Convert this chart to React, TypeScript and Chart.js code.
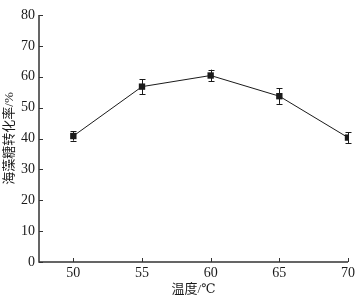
import { useEffect, useRef } from 'react';
import { Chart, registerables } from 'chart.js';

Chart.register(...registerables);

const temperatures = [50, 55, 60, 65, 70];
const conversion = [40.8, 56.8, 60.4, 53.7, 40.3];
const errorValues = [1.5, 2.4, 1.9, 2.5, 1.8];
const xTickValues = [50, 55, 60, 65, 70];
const yTickValues = [0, 10, 20, 30, 40, 50, 60, 70, 80];
const xTitle = '温度/℃';
const yTitle = '海藻糖转化率/%';

const FONT = "'Liberation Serif', 'DejaVu Serif', 'Noto Sans CJK SC', serif";
const INK = '#1a1a1a';
const AXIS = '#333333';

const decorPlugin = {
  id: 'decor',
  beforeDatasetsDraw(chart: any) {
    const { ctx } = chart;
    const xs = chart.scales.x;
    const ys = chart.scales.y;
    ctx.save();
    ctx.strokeStyle = INK;
    ctx.lineWidth = 1;
    temperatures.forEach((t, i) => {
      const x = Math.round(xs.getPixelForValue(t)) + 0.5;
      const yTop = ys.getPixelForValue(conversion[i] + errorValues[i]);
      const yBot = ys.getPixelForValue(conversion[i] - errorValues[i]);
      ctx.beginPath();
      ctx.moveTo(x, yTop);
      ctx.lineTo(x, yBot);
      ctx.moveTo(x - 3, Math.round(yTop) + 0.5);
      ctx.lineTo(x + 3, Math.round(yTop) + 0.5);
      ctx.moveTo(x - 3, Math.round(yBot) + 0.5);
      ctx.lineTo(x + 3, Math.round(yBot) + 0.5);
      ctx.stroke();
    });
    ctx.restore();
  },
  afterDraw(chart: any) {
    const { ctx, chartArea } = chart;
    const xs = chart.scales.x;
    const ys = chart.scales.y;
    ctx.save();
    ctx.strokeStyle = AXIS;
    ctx.lineWidth = 1.5;
    ctx.beginPath();
    ctx.moveTo(chartArea.left, chartArea.top);
    ctx.lineTo(chartArea.left, chartArea.bottom);
    ctx.lineTo(chartArea.right, chartArea.bottom);
    ctx.stroke();
    ctx.lineWidth = 1;
    ctx.beginPath();
    yTickValues.forEach((v) => {
      const y = Math.round(ys.getPixelForValue(v)) + 0.5;
      ctx.moveTo(chartArea.left, y);
      ctx.lineTo(chartArea.left + 4, y);
    });
    xTickValues.forEach((v) => {
      const x = Math.round(xs.getPixelForValue(v)) + 0.5;
      ctx.moveTo(x, chartArea.bottom);
      ctx.lineTo(x, chartArea.bottom - 4);
    });
    ctx.stroke();
    ctx.restore();
  },
};

export default function App() {
  const ref = useRef<HTMLCanvasElement | null>(null);
  useEffect(() => {
    if (!ref.current) return;
    const chart = new Chart(ref.current, {
      type: 'line',
      data: {
        datasets: [
          {
            data: temperatures.map((t, i) => ({ x: t, y: conversion[i] })),
            borderColor: INK,
            borderWidth: 1,
            backgroundColor: INK,
            pointStyle: 'rect',
            pointRadius: 4.5,
            pointHoverRadius: 4.5,
            pointBorderWidth: 0,
            pointBackgroundColor: INK,
            tension: 0,
          },
        ],
      },
      options: {
        animation: false,
        responsive: true,
        maintainAspectRatio: false,
        layout: { padding: { top: 15, right: 11, left: 0, bottom: 0 } },
        plugins: { legend: { display: false }, tooltip: { enabled: false } },
        scales: {
          x: {
            type: 'linear',
            min: 47.5,
            max: 70,
            afterBuildTicks: (s: any) => {
              s.ticks = xTickValues.map((v) => ({ value: v }));
            },
            afterFit: (s: any) => {
              s.height = 37;
            },
            grid: { display: false, drawTicks: false },
            border: { display: false },
            ticks: {
              padding: 3,
              color: INK,
              font: { family: FONT, size: 14 },
              maxRotation: 0,
            },
            title: {
              display: true,
              text: xTitle,
              color: INK,
              font: { family: FONT, size: 13 },
              padding: { top: 0, bottom: 2 },
            },
          },
          y: {
            min: 0,
            max: 80,
            afterBuildTicks: (s: any) => {
              s.ticks = yTickValues.map((v) => ({ value: v }));
            },
            afterFit: (s: any) => {
              s.width = 39;
            },
            grid: { display: false, drawTicks: false },
            border: { display: false },
            ticks: {
              padding: 4,
              color: INK,
              font: { family: FONT, size: 14 },
            },
            title: {
              display: true,
              text: yTitle,
              color: INK,
              font: { family: FONT, size: 13 },
              padding: { top: 2, bottom: 0 },
            },
          },
        },
      },
      plugins: [decorPlugin],
    });
    return () => chart.destroy();
  }, []);
  return (
    <div style={{ position: 'absolute', left: 0, top: 0, width: 359, height: 299, background: '#fff' }}>
      <canvas ref={ref} />
    </div>
  );
}
